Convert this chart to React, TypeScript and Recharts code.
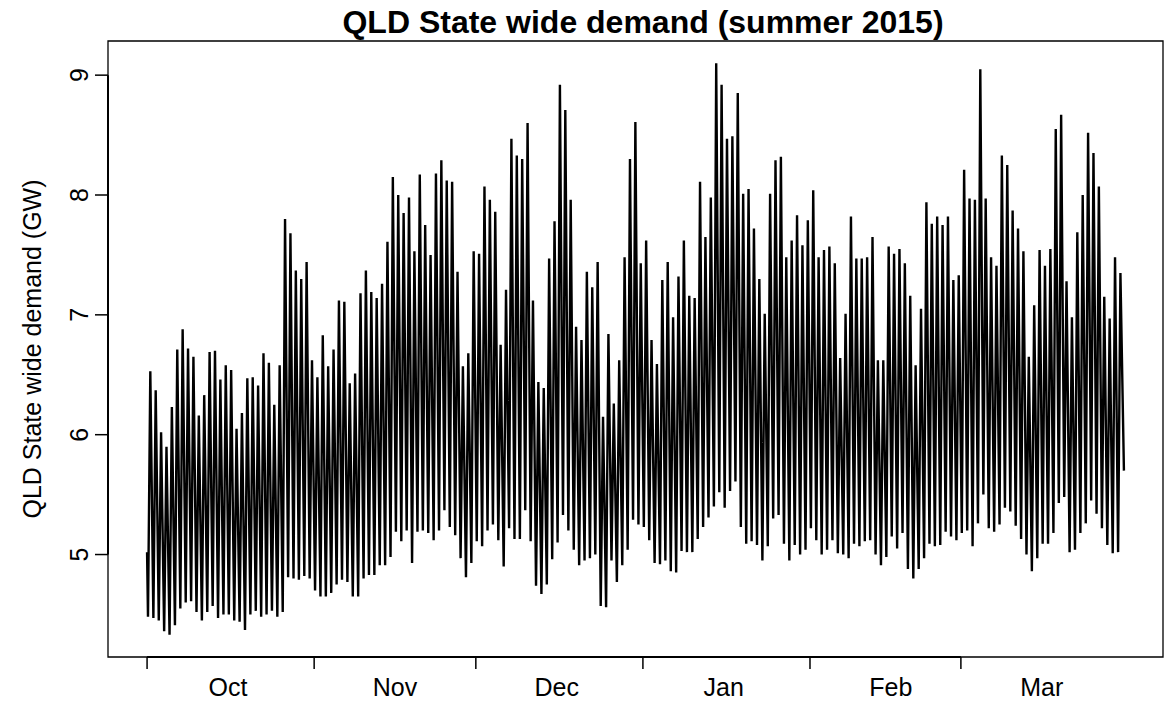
import { LineChart, Line, XAxis, YAxis, ReferenceArea, ReferenceLine } from "recharts";

// daily maximum / minimum of QLD demand (GW), day 0 = 1 Oct
const dailyPeak = [
  6.53, 6.37, 6.02, 5.9, 6.23, 6.71, 6.88, 6.72, 6.65, 6.16,
  6.33, 6.69, 6.7, 6.46, 6.58, 6.54, 6.05, 6.18, 6.47, 6.48,
  6.41, 6.68, 6.6, 6.25, 6.58, 7.8, 7.68, 7.37, 7.3, 7.44,
  6.62, 6.48, 6.83, 6.57, 6.71, 7.12, 7.11, 6.43, 6.51, 7.18,
  7.37, 7.19, 7.14, 7.26, 7.61, 8.15, 8.0, 7.85, 7.98, 7.53,
  8.17, 7.75, 7.5, 8.18, 8.29, 8.12, 8.11, 7.36, 6.57, 6.68,
  7.53, 7.51, 8.07, 7.96, 7.86, 6.75, 7.21, 8.47, 8.33, 8.3,
  8.6, 7.12, 6.44, 6.39, 7.47, 7.78, 8.92, 8.71, 7.96, 6.9,
  6.79, 7.36, 7.23, 7.44, 6.15, 6.84, 6.26, 6.62, 7.48, 8.3,
  8.61, 7.43, 7.62, 6.79, 6.59, 7.29, 7.44, 6.98, 7.32, 7.62,
  7.16, 7.14, 8.11, 7.65, 7.98, 9.1, 8.92, 8.47, 8.49, 8.85,
  8.01, 8.05, 7.72, 7.3, 7.01, 8.01, 8.29, 8.32, 7.48, 7.62,
  7.83, 7.58, 7.79, 8.04, 7.48, 7.54, 7.57, 7.43, 6.64, 7.01,
  7.82, 7.47, 7.47, 7.48, 7.65, 6.62, 6.62, 7.57, 7.51, 7.55,
  7.43, 7.16, 6.58, 7.05, 7.94, 7.76, 7.82, 7.75, 7.82, 7.29,
  7.33, 8.21, 7.97, 7.96, 9.05, 7.97, 7.48, 7.41, 8.33, 8.25,
  7.87, 7.72, 7.53, 6.65, 7.08, 7.54, 7.41, 7.55, 8.55, 8.67,
  7.28, 6.98, 7.69, 8.0, 8.52, 8.35, 8.07, 7.15, 6.97, 7.48,
  7.35,
];

const dailyTrough = [
  4.48, 4.47, 4.45, 4.36, 4.33, 4.41, 4.55, 4.6, 4.61, 4.52,
  4.45, 4.52, 4.57, 4.47, 4.5, 4.5, 4.45, 4.44, 4.37, 4.5,
  4.53, 4.48, 4.5, 4.53, 4.48, 4.52, 4.81, 4.8, 4.79, 4.82,
  4.8, 4.7, 4.65, 4.65, 4.68, 4.75, 4.79, 4.77, 4.65, 4.65,
  4.8, 4.83, 4.83, 4.91, 4.91, 4.98, 5.19, 5.11, 5.2, 4.93,
  5.19, 5.2, 5.18, 5.12, 5.2, 5.37, 5.23, 5.16, 4.97, 4.81,
  4.93, 5.11, 5.07, 5.2, 5.25, 5.12, 4.9, 5.22, 5.13, 5.13,
  5.37, 5.11, 4.74, 4.67, 4.75, 4.96, 5.1, 5.33, 5.2, 5.04,
  4.91, 4.95, 4.97, 5.0, 4.57, 4.56, 4.95, 4.77, 4.91, 5.04,
  5.29, 5.25, 5.23, 5.12, 4.93, 4.92, 4.95, 4.86, 4.85, 5.03,
  5.02, 5.02, 5.13, 5.23, 5.31, 5.4, 5.52, 5.39, 5.53, 5.61,
  5.23, 5.09, 5.11, 5.08, 4.95, 5.07, 5.3, 5.33, 5.09, 4.95,
  5.08, 5.0, 5.04, 5.22, 5.12, 5.0, 5.04, 5.12, 5.01, 5.0,
  4.97, 5.09, 5.07, 5.11, 5.12, 5.0, 4.91, 4.98, 5.15, 5.05,
  5.18, 4.88, 4.8, 4.88, 4.97, 5.09, 5.07, 5.08, 5.19, 5.15,
  5.12, 5.18, 5.2, 5.07, 5.26, 5.5, 5.22, 5.19, 5.25, 5.39,
  5.36, 5.24, 5.13, 5.0, 4.86, 4.97, 5.09, 5.09, 5.18, 5.43,
  5.48, 5.02, 5.04, 5.18, 5.26, 5.45, 5.34, 5.22, 5.08, 5.01,
  5.02,
];

const startValue = 5.02;
const endValue = 5.7;
const endDay = 181.25;

const monthNames = ["Oct", "Nov", "Dec", "Jan", "Feb", "Mar"];
const monthStartDay = [0, 31, 61, 92, 123, 151];
const monthLabelDay = [15, 46, 76, 107, 138, 166];
const yTicks = [5, 6, 7, 8, 9];

const xDomain: [number, number] = [-7.25, 188.5];
const yDomain: [number, number] = [4.145, 9.285];

const FONT = "'Liberation Sans', Arial, Helvetica, sans-serif";

const data: { t: number; v: number }[] = [{ t: 0, v: startValue }];
dailyPeak.forEach((p, d) => {
  data.push({ t: d + 0.17, v: dailyTrough[d] });
  data.push({ t: d + 0.6, v: p });
});
data.push({ t: endDay, v: endValue });

const xTicks = [...monthStartDay, ...monthLabelDay].sort((a, b) => a - b);

// eslint-disable-next-line @typescript-eslint/no-explicit-any
function MonthTick(props: any) {
  const { x, y, payload } = props;
  const s = monthStartDay.indexOf(payload.value);
  if (s >= 0) {
    return <line x1={x} x2={x} y1={y} y2={y + 12} stroke="#000" strokeWidth={1.5} />;
  }
  const i = monthLabelDay.indexOf(payload.value);
  return (
    <text x={x} y={y + 39} textAnchor="middle" fontSize={25} fontFamily={FONT} fill="#000">
      {monthNames[i]}
    </text>
  );
}

// eslint-disable-next-line @typescript-eslint/no-explicit-any
function ValueTick(props: any) {
  const { x, y, payload } = props;
  return (
    <g>
      <line x1={x - 13} x2={x} y1={y} y2={y} stroke="#000" strokeWidth={1.5} />
      <text
        x={x - 20}
        y={y}
        transform={`rotate(-90, ${x - 20}, ${y})`}
        textAnchor="middle"
        fontSize={25}
        fontFamily={FONT}
        fill="#000"
      >
        {payload.value}
      </text>
    </g>
  );
}

export default function App() {
  return (
    <div style={{ position: "absolute", left: 0, top: 0, width: 1164, height: 704, background: "#fff" }}>
      <LineChart
        width={1164}
        height={704}
        data={data}
        margin={{ top: 41, right: 1, bottom: 0, left: 0 }}
      >
        <XAxis
          type="number"
          dataKey="t"
          domain={xDomain}
          allowDataOverflow
          ticks={xTicks}
          interval={0}
          tickSize={0}
          tickMargin={0}
          tickLine={false}
          axisLine={false}
          height={47}
          tick={<MonthTick />}
        />
        <YAxis
          type="number"
          domain={yDomain}
          allowDataOverflow
          ticks={yTicks}
          interval={0}
          tickSize={0}
          tickMargin={0}
          tickLine={false}
          axisLine={false}
          width={108}
          tick={<ValueTick />}
        />
        <ReferenceArea
          x1={xDomain[0]}
          x2={xDomain[1]}
          y1={yDomain[0]}
          y2={yDomain[1]}
          fill="none"
          fillOpacity={0}
          stroke="#000"
          strokeWidth={1.3}
          ifOverflow="visible"
        />
        <ReferenceLine
          segment={[
            { x: monthStartDay[0], y: yDomain[0] },
            { x: monthStartDay[monthStartDay.length - 1], y: yDomain[0] },
          ]}
          stroke="#000"
          strokeWidth={2}
          ifOverflow="visible"
        />
        <ReferenceLine
          segment={[
            { x: xDomain[0], y: yTicks[0] },
            { x: xDomain[0], y: yTicks[yTicks.length - 1] },
          ]}
          stroke="#000"
          strokeWidth={2}
          ifOverflow="visible"
        />
        <Line
          dataKey="v"
          type="linear"
          stroke="#000"
          strokeWidth={2.4}
          dot={false}
          isAnimationActive={false}
        />
      </LineChart>
      <svg
        width={1164}
        height={704}
        style={{ position: "absolute", left: 0, top: 0, pointerEvents: "none" }}
      >
        <text x={643} y={33} textAnchor="middle" fontSize={32} fontWeight="bold" fontFamily={FONT} fill="#000">
          QLD State wide demand (summer 2015)
        </text>
        <text
          x={41}
          y={349}
          transform="rotate(-90, 41, 349)"
          textAnchor="middle"
          fontSize={25}
          fontFamily={FONT}
          fill="#000"
        >
          QLD State wide demand (GW)
        </text>
      </svg>
    </div>
  );
}
